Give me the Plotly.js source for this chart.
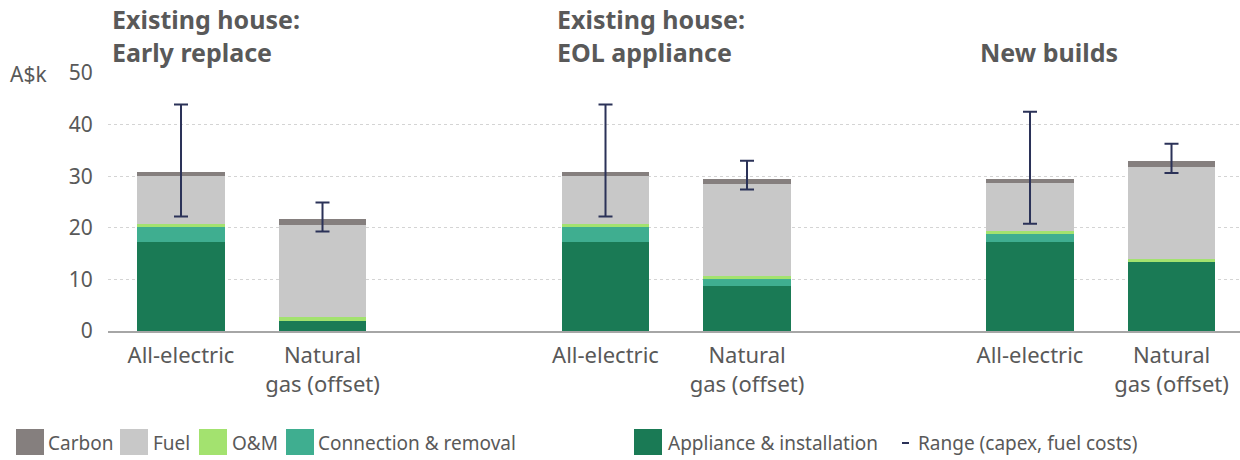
<!DOCTYPE html>
<html>
<head>
<meta charset="utf-8">
<script src="https://cdn.plot.ly/plotly-3.0.1.min.js"></script>
<style>html,body{margin:0;padding:0;background:#fff;}#chart{width:1240px;height:460px;}</style>
</head>
<body>
<div id="chart"></div>
<script>
// ---- data ----
const groupTitles = ['Existing house:<br>Early replace', 'Existing house:<br>EOL appliance', 'New builds'];
const optionLabels = ['All-electric', 'Natural<br>gas (offset)'];
const appliance  = [17.3, 2.0, 17.3, 8.7, 17.3, 13.3];
const connection = [2.9, 0.0, 2.9, 1.3, 1.5, 0.0];
const om         = [0.6, 0.7, 0.6, 0.6, 0.6, 0.6];
const fuel       = [9.2, 17.9, 9.2, 17.9, 9.2, 17.9];
const carbon     = [0.8, 1.1, 0.8, 1.0, 0.8, 1.1];
const rangeLow   = [22.2, 19.3, 22.2, 27.4, 20.8, 30.6];
const rangeHigh  = [43.9, 24.9, 43.9, 33.0, 42.5, 36.3];
const seriesNames = ['Appliance & installation', 'Connection & removal', 'O&M', 'Fuel', 'Carbon'];
const rangeName = 'Range (capex, fuel costs)';

// ---- styling ----
const colors = {
  'Appliance & installation': '#1a7a55',
  'Connection & removal': '#3fae90',
  'O&M': '#a3e26f',
  'Fuel': '#c8c8c8',
  'Carbon': '#857f7e'
};
const txt = '#595959';
const FONT = 'Noto Sans, Open Sans, sans-serif';

// positions: two options per group, one empty slot between groups
const xs = [];
const tickText = [];
groupTitles.forEach((g, gi) => optionLabels.forEach((o, oi) => { xs.push(gi * 3 + oi); tickText.push(o); }));

const values = [appliance, connection, om, fuel, carbon];
const traces = seriesNames.map((name, i) => ({
  type: 'bar', name: name, x: xs, y: values[i], width: 0.62,
  marker: {color: colors[name], line: {width: 0}},
  showlegend: false, hoverinfo: 'y+name'
}));
traces.push({
  type: 'scatter', mode: 'markers', name: rangeName, x: xs, y: rangeLow,
  marker: {size: 1, color: 'rgba(0,0,0,0)'},
  error_y: {type: 'data', symmetric: false,
            array: rangeHigh.map((h, i) => h - rangeLow[i]),
            arrayminus: rangeLow.map(() => 0),
            color: '#2b3258', thickness: 2, width: 7},
  showlegend: false
});

// pixel -> paper helpers (plot area: x 108..1240, y 73..331)
const L = 108, R = 0, T = 73, B = 129, W = 1240, H = 460;
const pw = W - L - R, ph = H - T - B;
const px = v => (v - L) / pw;
const py = v => (H - B - v) / ph;

const annotations = [];
const shapes = [];
const titleX = [110, 555, 978];
groupTitles.forEach((t, i) => annotations.push({
  text: '<b>' + t + '</b>', xref: 'paper', yref: 'paper', x: px(titleX[i]), y: py(71),
  xanchor: 'left', yanchor: 'bottom', align: 'left', showarrow: false,
  font: {family: FONT, size: 25, color: txt}
}));
annotations.push({text: 'A$k', xref: 'paper', yref: 'paper', x: px(8), y: py(74),
  xanchor: 'left', yanchor: 'middle', showarrow: false, font: {family: FONT, size: 21, color: txt}});

// legend (custom, large swatches)
const legendItems = [
  {name: 'Carbon', sq: 16, tx: 46},
  {name: 'Fuel', sq: 120, tx: 151},
  {name: 'O&M', sq: 199, tx: 230},
  {name: 'Connection & removal', sq: 286, tx: 316},
  {name: 'Appliance & installation', sq: 634, tx: 666}
];
legendItems.forEach(it => {
  shapes.push({type: 'rect', xref: 'paper', yref: 'paper', x0: px(it.sq), x1: px(it.sq + 28),
    y0: py(455), y1: py(429), fillcolor: colors[it.name], line: {width: 0}});
  annotations.push({text: it.name, xref: 'paper', yref: 'paper', x: px(it.tx), y: py(443),
    xanchor: 'left', yanchor: 'middle', showarrow: false, font: {family: FONT, size: 19, color: txt}});
});
shapes.push({type: 'line', xref: 'paper', yref: 'paper', x0: px(902), x1: px(909), y0: py(443), y1: py(443),
  line: {color: '#2b3258', width: 2}});
annotations.push({text: rangeName, xref: 'paper', yref: 'paper', x: px(916), y: py(443),
  xanchor: 'left', yanchor: 'middle', showarrow: false, font: {family: FONT, size: 19, color: txt}});

const layout = {
  width: W, height: H,
  margin: {l: L, r: R, t: T, b: B},
  paper_bgcolor: '#fff', plot_bgcolor: '#fff',
  barmode: 'stack',
  showlegend: false,
  font: {family: FONT, size: 20, color: txt},
  xaxis: {
    range: [-0.516, 7.484], tickmode: 'array', tickvals: xs, ticktext: tickText,
    showgrid: false, zeroline: false, showline: true, linecolor: '#a6a6a6', linewidth: 2,
    ticks: 'outside', ticklen: 4, tickcolor: 'rgba(0,0,0,0)',
    tickfont: {family: FONT, size: 22, color: txt}, fixedrange: true
  },
  yaxis: {
    range: [0, 50], dtick: 10, showgrid: true, gridcolor: '#d4d4d4', griddash: 'dot', gridwidth: 1,
    zeroline: false, showline: false,
    ticks: 'outside', ticklen: 10, tickcolor: 'rgba(0,0,0,0)',
    tickfont: {family: FONT, size: 21, color: txt}, fixedrange: true
  },
  annotations: annotations,
  shapes: shapes
};

Plotly.newPlot('chart', traces, layout, {displayModeBar: false, staticPlot: true});
</script>
</body>
</html>
